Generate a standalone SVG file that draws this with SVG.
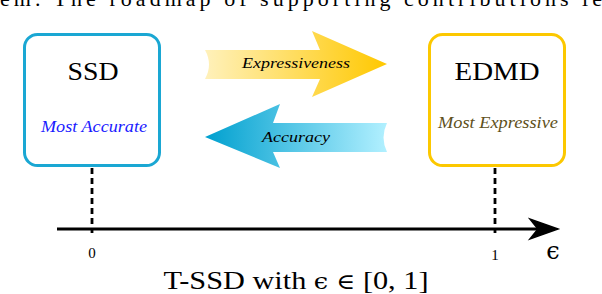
<svg xmlns="http://www.w3.org/2000/svg" width="602" height="294" viewBox="0 0 602 294">
  <defs>
    <linearGradient id="gradExp" x1="205" y1="0" x2="387" y2="0" gradientUnits="userSpaceOnUse">
      <stop offset="0" stop-color="#fff1bb"/>
      <stop offset="1" stop-color="#ffc800"/>
    </linearGradient>
    <linearGradient id="gradAcc" x1="205" y1="0" x2="387" y2="0" gradientUnits="userSpaceOnUse">
      <stop offset="0" stop-color="#00a0cf"/>
      <stop offset="1" stop-color="#b2f0ff"/>
    </linearGradient>
    <style>
      .box { fill: #ffffff; stroke-width: 3; }
      .title { font-size: 26px; text-anchor: middle; fill: #000; }
      .sub { font-size: 16px; font-style: italic; text-anchor: middle; }
      .arrowlabel { font-size: 15px; font-style: italic; text-anchor: middle; fill: #000; }
      .dash { stroke: #000; stroke-width: 2.8; stroke-dasharray: 6 4; fill: none; }
      .tick { font-size: 15px; text-anchor: middle; fill: #000; }
    </style>
  </defs>
  <rect width="602" height="294" fill="#ffffff"/>

  <text font-family="'Liberation Serif', serif" x="0" y="6" font-size="22" textLength="602" lengthAdjust="spacing" fill="#000">em. The roadmap of supporting contributions le</text>

  <g id="ssd">
    <rect class="box" x="24.5" y="34.5" width="135" height="131" rx="13" stroke="#1aa7d3"/>
    <text font-family="'Liberation Serif', serif" class="title" x="93" y="80" textLength="51" lengthAdjust="spacingAndGlyphs">SSD</text>
    <text font-family="'Liberation Serif', serif" class="sub" x="94" y="132" fill="#1a1aff" textLength="106" lengthAdjust="spacingAndGlyphs">Most Accurate</text>
  </g>

  <g id="edmd">
    <rect class="box" x="429.5" y="34.5" width="135" height="131" rx="13" stroke="#fcc800"/>
    <text font-family="'Liberation Serif', serif" class="title" x="497" y="80" textLength="85" lengthAdjust="spacingAndGlyphs">EDMD</text>
    <text font-family="'Liberation Serif', serif" class="sub" x="498" y="128" fill="#5e5020" textLength="120" lengthAdjust="spacingAndGlyphs">Most Expressive</text>
  </g>

  <g id="arrow-expressiveness">
    <path d="M205,50 L320,50 L312,31 L387,64 L312,97 L320,79 L205,79 Q213,64.5 205,50 Z" fill="url(#gradExp)"/>
    <text font-family="'Liberation Serif', serif" class="arrowlabel" x="296" y="68" textLength="108" lengthAdjust="spacingAndGlyphs">Expressiveness</text>
  </g>

  <g id="arrow-accuracy">
    <path d="M387,123 L273,123 L280,104 L205,137 L280,168 L273,152 L387,152 Q380,137.5 387,123 Z" fill="url(#gradAcc)"/>
    <text font-family="'Liberation Serif', serif" class="arrowlabel" x="296" y="142" textLength="68" lengthAdjust="spacingAndGlyphs">Accuracy</text>
  </g>

  <g id="connectors">
    <line class="dash" x1="92" y1="168" x2="92" y2="233"/>
    <line class="dash" x1="495" y1="168" x2="495" y2="233"/>
    <line x1="57" y1="229" x2="545" y2="229" stroke="#000" stroke-width="3"/>
    <path d="M558,229 L530,219 L538,229 L530,239 Z" fill="#000" stroke="#000" stroke-width="1.5" stroke-linejoin="miter"/>
  </g>

  <g id="labels">
    <text font-family="'Liberation Serif', serif" class="tick" x="92" y="258">0</text>
    <text font-family="'Liberation Serif', serif" class="tick" x="495" y="260">1</text>
    <text x="553" y="259" font-family="'DejaVu Serif', serif" font-size="24" text-anchor="middle" fill="#000">ϵ</text>
    <text font-family="'Liberation Serif', serif" x="296" y="289" font-size="26" text-anchor="middle" fill="#000" textLength="265" lengthAdjust="spacingAndGlyphs">T-SSD with <tspan font-family="'DejaVu Serif', serif" font-size="22">ϵ ∈</tspan> [0, 1]</text>
  </g>
</svg>
